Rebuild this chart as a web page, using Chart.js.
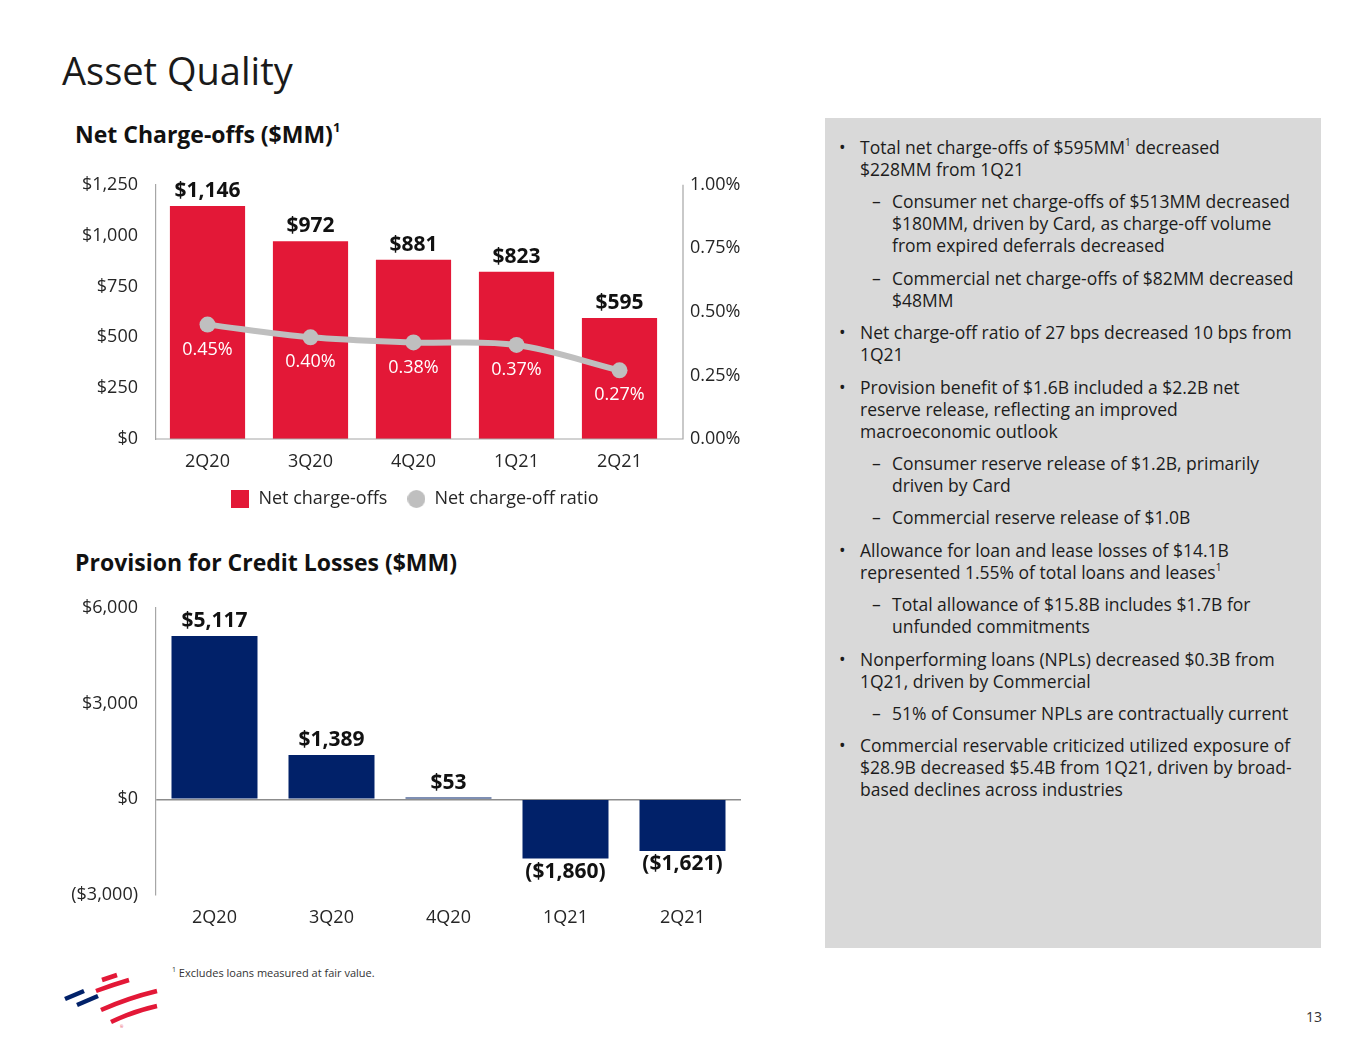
<!DOCTYPE html>
<html>
<head>
<meta charset="utf-8">
<title>Asset Quality</title>
<script src="https://cdn.jsdelivr.net/npm/chart.js@4.4.1/dist/chart.umd.min.js"></script>
<style>
  html, body { margin: 0; padding: 0; background: #fff; }
  body { width: 1365px; height: 1055px; position: relative; overflow: hidden;
         font-family: "Open Sans", "DejaVu Sans", sans-serif; color: #1a1a1a; }
  .abs { position: absolute; }
  #title { left: 62px; top: 51px; font-size: 38px; line-height: 38px; white-space: nowrap; }
  .ctitle { left: 75px; font-size: 23px; line-height: 23px; font-weight: 700; white-space: nowrap; color: #111; }
  .ctitle sup { font-size: 13px; line-height: 0; position: relative; top: -2px; }
  #box1 { left: 60px; top: 155px; width: 710px; height: 363px; }
  #box2 { left: 60px; top: 579px; width: 710px; height: 363px; }
  #panel { left: 825px; top: 118px; width: 496px; height: 830px; background: #d9d9d9;
           box-sizing: border-box; padding-top: 18px; font-size: 17.5px; line-height: 22px; color: #1c1c1c; }
  #panel .p { position: relative; margin-bottom: 10.4px; white-space: nowrap; }
  #panel .b { padding-left: 35px; }
  #panel .s { padding-left: 67px; }
  #panel .b::before { content: "\2022"; position: absolute; left: 14px; }
  #panel .s::before { content: "\2013"; position: absolute; left: 47px; }
  #panel sup { font-size: 10px; line-height: 0; position: relative; top: -1px; }
  #foot { left: 172px; top: 966px; font-size: 11px; line-height: 14px; color: #333; white-space: nowrap; }
  #foot sup { font-size: 7px; line-height: 0; }
  #page { left: 1290px; top: 1008px; width: 32px; text-align: right; font-size: 14px; line-height: 18px; color: #333; }
  #logo { left: 60px; top: 970px; }
</style>
</head>
<body>
<div id="title" class="abs">Asset Quality</div>

<div class="abs ctitle" style="top:123px">Net Charge-offs ($MM)<sup>1</sup></div>
<div id="box1" class="abs"><canvas id="nco"></canvas></div>

<div class="abs ctitle" style="top:551px">Provision for Credit Losses ($MM)</div>
<div id="box2" class="abs"><canvas id="prov"></canvas></div>

<div id="panel" class="abs">
  <div class="p b">Total net charge-offs of $595MM<sup>1</sup> decreased<br>$228MM from 1Q21</div>
  <div class="p s">Consumer net charge-offs of $513MM decreased<br>$180MM, driven by Card, as charge-off volume<br>from expired deferrals decreased</div>
  <div class="p s">Commercial net charge-offs of $82MM decreased<br>$48MM</div>
  <div class="p b">Net charge-off ratio of 27 bps decreased 10 bps from<br>1Q21</div>
  <div class="p b">Provision benefit of $1.6B included a $2.2B net<br>reserve release, reflecting an improved<br>macroeconomic outlook</div>
  <div class="p s">Consumer reserve release of $1.2B, primarily<br>driven by Card</div>
  <div class="p s">Commercial reserve release of $1.0B</div>
  <div class="p b">Allowance for loan and lease losses of $14.1B<br>represented 1.55% of total loans and leases<sup>1</sup></div>
  <div class="p s">Total allowance of $15.8B includes $1.7B for<br>unfunded commitments</div>
  <div class="p b">Nonperforming loans (NPLs) decreased $0.3B from<br>1Q21, driven by Commercial</div>
  <div class="p s">51% of Consumer NPLs are contractually current</div>
  <div class="p b">Commercial reservable criticized utilized exposure of<br>$28.9B decreased $5.4B from 1Q21, driven by broad-<br>based declines across industries</div>
</div>

<div id="foot" class="abs"><sup>1</sup> Excludes loans measured at fair value.</div>
<div id="page" class="abs">13</div>

<svg id="logo" class="abs" width="105" height="62" viewBox="60 970 105 62">
  <g fill="none" stroke-width="4.5">
    <path d="M65 999 L84 991" stroke="#012169"/>
    <path d="M77 1005 L98 996" stroke="#012169"/>
    <path d="M102 980 L117 975" stroke="#e31837"/>
    <path d="M96 991 Q112 985 129 980" stroke="#e31837"/>
    <path d="M101 1010 Q128 998 157 991" stroke="#e31837"/>
    <path d="M111 1022 Q134 1011 157 1006" stroke="#e31837"/>
  </g>
  <text x="120" y="1028" font-size="4" fill="#e31837">®</text>
</svg>

<script>
// ---- data ----
const quarters = ['2Q20', '3Q20', '4Q20', '1Q21', '2Q21'];
const netChargeOffs = [1146, 972, 881, 823, 595];      // $MM
const chargeOffRatio = [0.45, 0.40, 0.38, 0.37, 0.27];  // %
const provision = [5117, 1389, 53, -1860, -1621];       // $MM

const RED = '#e31837';
const NAVY = '#012169';
const GREY_LINE = '#bfbfbf';
const AXIS = '#a6a6a6';
const TICK = '#262626';
const FONT = '"Open Sans", "DejaVu Sans", sans-serif';

Chart.defaults.font.family = FONT;
Chart.defaults.color = TICK;
Chart.defaults.animation = false;

function money(v) {
    var s = '$' + Math.abs(v).toLocaleString('en-US');
    return v < 0 ? '(' + s + ')' : s;
}

// small legend swatches (18px square / 18px dot)
function swatch(color, round) {
    var c = document.createElement('canvas');
    c.width = 18;
    c.height = 18;
    var g = c.getContext('2d');
    g.fillStyle = color;
    if (round) {
        g.beginPath();
        g.arc(9, 9, 9, 0, Math.PI * 2);
        g.fill();
    } else {
        g.fillRect(0, 0, 18, 18);
    }
    return c;
}

/**
 * draws value labels next to each element; styles come from dataset.valueLabel
 */
const valueLabels = {
    id: 'valueLabels',
    afterDatasetsDraw: function(chart) {
        var ctx = chart.ctx;
        chart.data.datasets.forEach(function(ds, i) {
            var cfg = ds.valueLabel;
            if (!cfg) return;
            var meta = chart.getDatasetMeta(i);
            ctx.save();
            ctx.font = cfg.font;
            ctx.fillStyle = cfg.color;
            ctx.textAlign = 'center';
            ctx.textBaseline = 'middle';
            meta.data.forEach(function(el, j) {
                var v = ds.data[j];
                var y = v >= 0 ? el.y + cfg.above : el.y + cfg.below;
                ctx.fillText(cfg.format(v), el.x, y);
            });
            ctx.restore();
        });
    }
};

// frame of the first chart: bottom rule and right rule sit a bit past the bars
const ncoFrame = {
    id: 'ncoFrame',
    afterDraw: function(chart) {
        var a = chart.chartArea, ctx = chart.ctx, r = a.right + 12;
        ctx.save();
        ctx.strokeStyle = AXIS;
        ctx.lineWidth = 1.2;
        ctx.beginPath();
        ctx.moveTo(a.left, a.bottom);
        ctx.lineTo(r, a.bottom);
        ctx.lineTo(r, a.top);
        ctx.stroke();
        ctx.restore();
    }
};

// ---- Net charge-offs ----
new Chart(document.getElementById('nco'), {
    type: 'bar',
    data: {
        labels: quarters,
        datasets: [{
            label: 'Net charge-offs',
            data: netChargeOffs,
            backgroundColor: RED,
            categoryPercentage: 1,
            barPercentage: 0.73,
            yAxisID: 'y',
            order: 1,
            valueLabel: { font: 'bold 21px ' + FONT, color: '#111', above: -15, below: 15, format: money }
        }, {
            type: 'line',
            label: 'Net charge-off ratio',
            data: chargeOffRatio,
            borderColor: GREY_LINE,
            backgroundColor: GREY_LINE,
            borderWidth: 6,
            pointRadius: 8,
            pointBackgroundColor: GREY_LINE,
            pointBorderWidth: 0,
            pointStyle: 'circle',
            tension: 0.35,
            yAxisID: 'y1',
            order: 0,
            valueLabel: { font: '18px ' + FONT, color: '#fff', above: 25, below: 25,
                          format: function(v) { return v.toFixed(2) + '%'; } }
        }]
    },
    options: {
        responsive: true,
        maintainAspectRatio: false,
        layout: { padding: 0 },
        plugins: {
            tooltip: { enabled: false },
            legend: {
                position: 'bottom',
                labels: {
                    usePointStyle: true,
                    boxHeight: 18,
                    boxWidth: 18,
                    padding: 20,
                    font: { size: 18 },
                    color: TICK,
                    sort: function(a, b) { return a.datasetIndex - b.datasetIndex; },
                    generateLabels: function(chart) {
                        return Chart.defaults.plugins.legend.labels.generateLabels(chart).map(function(l) {
                            l.lineWidth = 0;
                            l.pointStyle = l.datasetIndex === 0 ? swatch(RED, false) : swatch(GREY_LINE, true);
                            return l;
                        });
                    }
                }
            }
        },
        scales: {
            x: {
                grid: { display: false, drawTicks: false },
                border: { display: false },
                ticks: { padding: 12, font: { size: 18 }, color: TICK },
                afterFit: function(s) { s.height = 31; }
            },
            y: {
                position: 'left',
                min: 0, max: 1250,
                grid: { display: false, drawTicks: false },
                border: { display: true, color: AXIS, width: 1.2 },
                ticks: { stepSize: 250, padding: 18, font: { size: 18 }, color: TICK, callback: money },
                afterFit: function(s) { s.width = 96; }
            },
            y1: {
                position: 'right',
                min: 0, max: 1,
                grid: { display: false, drawTicks: false },
                border: { display: false },
                ticks: { stepSize: 0.25, padding: 19, font: { size: 18 }, color: TICK,
                         callback: function(v) { return v.toFixed(2) + '%'; } },
                afterFit: function(s) { s.width = 99; }
            }
        }
    },
    plugins: [valueLabels, ncoFrame]
});

// ---- Provision for credit losses ----
new Chart(document.getElementById('prov'), {
    type: 'bar',
    data: {
        labels: quarters,
        datasets: [{
            label: 'Provision for credit losses',
            data: provision,
            backgroundColor: NAVY,
            categoryPercentage: 1,
            barPercentage: 0.735,
            valueLabel: { font: 'bold 21px ' + FONT, color: '#111', above: -15, below: 13, format: money }
        }]
    },
    options: {
        responsive: true,
        maintainAspectRatio: false,
        layout: { padding: { top: 0, left: 0, right: 29, bottom: 0 } },
        plugins: { tooltip: { enabled: false }, legend: { display: false } },
        scales: {
            x: {
                grid: { display: false, drawTicks: false },
                border: { display: false },
                ticks: { padding: 12, font: { size: 18 }, color: TICK },
                afterFit: function(s) { s.height = 47; }
            },
            y: {
                min: -3000, max: 6000,
                grid: {
                    drawTicks: false,
                    color: function(c) { return c.tick && c.tick.value === 0 ? '#8c8c8c' : 'rgba(0,0,0,0)'; },
                    lineWidth: 1.5
                },
                border: { display: true, color: AXIS, width: 1.2 },
                ticks: { stepSize: 3000, padding: 18, font: { size: 18 }, color: TICK, callback: money },
                afterFit: function(s) { s.width = 96; }
            }
        }
    },
    plugins: [valueLabels]
});
</script>
</body>
</html>
